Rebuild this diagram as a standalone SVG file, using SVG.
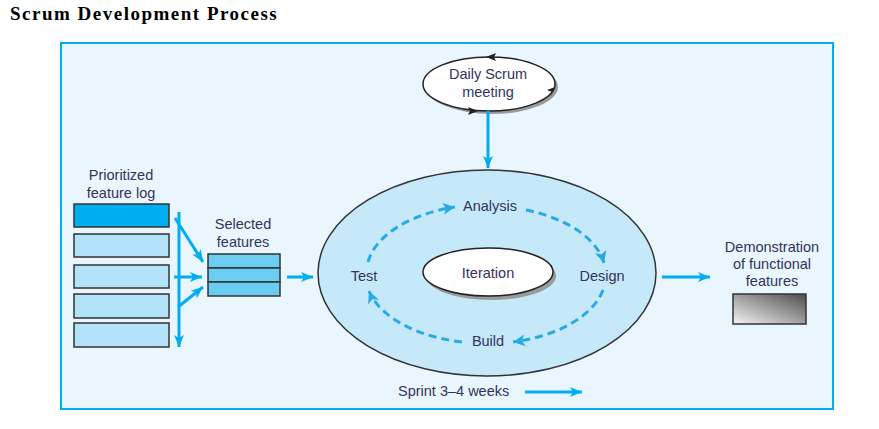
<svg xmlns="http://www.w3.org/2000/svg" width="879" height="429" viewBox="0 0 879 429">
<style>
.lbl{font-family:"Liberation Sans",Arial,sans-serif;font-size:14.5px;fill:#33335a;text-anchor:middle}
.box{stroke:#333;stroke-width:1.5}
.flow{stroke:#00AEEF;stroke-width:3;fill:none}
.cyc{stroke:#29ABE2;stroke-width:3;fill:none;stroke-dasharray:8 5}
</style>
<defs>
<marker id="ah" markerUnits="userSpaceOnUse" markerWidth="14" markerHeight="10" refX="12" refY="5" orient="auto">
<path d="M0,0 L12,5 L0,10 L3,5 Z" fill="#00AEEF"/>
</marker>
<marker id="dh" markerUnits="userSpaceOnUse" markerWidth="14" markerHeight="12" refX="12" refY="6" orient="auto">
<path d="M0,0 L12,6 L0,12 L3,6 Z" fill="#29ABE2"/>
</marker>
<linearGradient id="gr" x1="0" y1="1" x2="1" y2="0">
<stop offset="0" stop-color="#f4f4f4"/>
<stop offset="1" stop-color="#4d4d4d"/>
</linearGradient>
</defs>
<rect width="879" height="429" fill="#fff"/>
<text x="10" y="20" font-family="Liberation Serif,serif" font-weight="bold" font-size="19" letter-spacing="1.5" fill="#000">Scrum Development Process</text>
<rect x="61" y="43" width="772" height="366" fill="#EAF6FE" stroke="#00AEEF" stroke-width="2"/>

<g id="feature-log">
<text class="lbl" x="121" y="180">Prioritized</text>
<text class="lbl" x="121" y="198">feature log</text>
<rect class="box" x="74" y="204" width="95" height="23" fill="#00AEEF"/>
<rect class="box" x="74" y="234" width="95" height="23" fill="#B3E3F9"/>
<rect class="box" x="74" y="265" width="95" height="23" fill="#B3E3F9"/>
<rect class="box" x="74" y="294" width="95" height="24" fill="#B3E3F9"/>
<rect class="box" x="74" y="323" width="95" height="24" fill="#B3E3F9"/>
</g>

<g id="selected-features">
<text class="lbl" x="243" y="229">Selected</text>
<text class="lbl" x="243" y="247">features</text>
<rect class="box" x="208" y="254" width="72" height="14" fill="#6CCDF3"/>
<rect class="box" x="208" y="268" width="72" height="14" fill="#6CCDF3"/>
<rect class="box" x="208" y="282" width="72" height="14" fill="#6CCDF3"/>
</g>

<g id="daily-scrum">
<ellipse cx="492" cy="87" rx="66" ry="27" fill="#9a9a9a"/>
<ellipse cx="489" cy="84" rx="66" ry="27" fill="#fff" stroke="#222" stroke-width="1.5"/>
<polygon points="486,57 496,53 494,57 496,61" fill="#222"/>
<polygon points="555,87 551,96 552,92 547,90" fill="#222"/>
<polygon points="478,111 468,107 470,111 468,115" fill="#222"/>
<text class="lbl" x="488" y="79">Daily Scrum</text>
<text class="lbl" x="488" y="97">meeting</text>
</g>

<g id="sprint">
<ellipse cx="487" cy="273" rx="169" ry="103" fill="#C6E9FA" stroke="#333" stroke-width="1.5"/>
</g>

<g id="iteration">
<ellipse cx="491" cy="276" rx="65" ry="24" fill="#9a9a9a"/>
<ellipse cx="488" cy="272" rx="65" ry="24" fill="#fff" stroke="#222" stroke-width="1.5"/>
<text class="lbl" x="488" y="278">Iteration</text>
</g>

<g id="analysis"><text class="lbl" x="490" y="211">Analysis</text></g>
<g id="design"><text class="lbl" x="602" y="281">Design</text></g>
<g id="build"><text class="lbl" x="488" y="346">Build</text></g>
<g id="test"><text class="lbl" x="364" y="281">Test</text></g>

<g id="demonstration">
<text class="lbl" x="772" y="252">Demonstration</text>
<text class="lbl" x="772" y="269">of functional</text>
<text class="lbl" x="772" y="286">features</text>
<rect x="733" y="294" width="73" height="30" fill="url(#gr)" stroke="#333" stroke-width="1.5"/>
</g>

<g id="sprint-label">
<text class="lbl" x="398" y="396" style="text-anchor:start">Sprint 3–4 weeks</text>
</g>

<g id="connectors">
<line class="flow" x1="179" y1="212" x2="179" y2="347" marker-end="url(#ah)"/>
<line class="flow" x1="175" y1="218" x2="203" y2="262" marker-end="url(#ah)"/>
<line class="flow" x1="174" y1="277" x2="202" y2="277" marker-end="url(#ah)"/>
<line class="flow" x1="178" y1="307" x2="203" y2="287" marker-end="url(#ah)"/>
<line class="flow" x1="287" y1="277" x2="313" y2="277" marker-end="url(#ah)"/>
<line class="flow" x1="488" y1="111" x2="488" y2="168" marker-end="url(#ah)"/>
<line class="flow" x1="662" y1="277" x2="710" y2="277" marker-end="url(#ah)"/>
<line class="flow" x1="525" y1="392" x2="582" y2="392" marker-end="url(#ah)"/>
<path class="cyc" d="M368,262 A120,68 0 0 1 455,207" marker-end="url(#dh)"/>
<path class="cyc" d="M526,210 A120,68 0 0 1 604,263" marker-end="url(#dh)"/>
<path class="cyc" d="M603,290 A120,68 0 0 1 513,342" marker-end="url(#dh)"/>
<path class="cyc" d="M462,342 A120,68 0 0 1 369,291" marker-end="url(#dh)"/>
</g>
</svg>
